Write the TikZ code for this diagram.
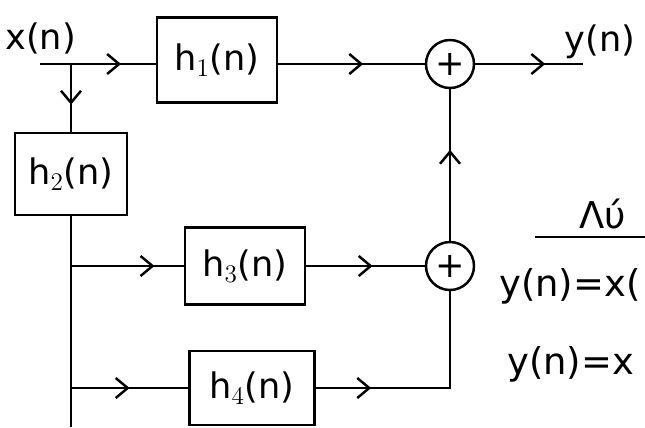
\documentclass[tikz,border=0pt]{standalone}
\usepackage{fontspec}
\setmainfont{DejaVu Sans}
\usepackage{tikz}
\usetikzlibrary{arrows.meta,decorations.markings}

\begin{document}
\begin{tikzpicture}[x=0.02cm,y=-0.02cm,line width=1.4pt,
  every node/.style={font=\fontsize{20}{24}\selectfont},
  filt/.style={draw,line width=1.4pt,inner sep=0pt},
  adder/.style={draw,circle,line width=1.4pt,minimum size=0.96cm,inner sep=0pt},
  note/.style={anchor=west,inner sep=0pt,font=\fontsize{21}{25}\selectfont},
  midarrow/.style={postaction={decorate,decoration={markings,
    mark=at position #1 with {\arrow{Straight Barb[length=2.4mm,width=4mm,line width=1.4pt]}}}}},
  midarrow/.default=0.5]
\useasboundingbox (0,0) rectangle (645,427);
% input and split
\node[anchor=west,inner sep=0pt] (xin) at (4,38) {x(n)};
\coordinate (xstart) at (40,64);
\coordinate (split1) at (71,64);
% filters
\node[filt,minimum width=2.4cm,minimum height=1.7cm] (h1) at (217,60) {h$_1$(n)};
\node[filt,minimum width=2.24cm,minimum height=1.64cm] (h2) at (71,174) {h$_2$(n)};
\node[filt,minimum width=2.4cm,minimum height=1.54cm] (h3) at (245,266) {h$_3$(n)};
\node[filt,minimum width=2.5cm,minimum height=1.48cm] (h4) at (252,388) {h$_4$(n)};
% adders
\node[adder] (sum1) at (450,64) {+};
\node[adder] (sum2) at (450,266) {+};
\coordinate (yout) at (583,64);
\node (ylab) at (600,42) {y(n)};
\coordinate (split3) at (71,266);
\coordinate (split4) at (71,388);
\coordinate (bottom) at (71,427);
\coordinate (corner4) at (450,388);
% connections
\draw[midarrow=0.7] (xstart) -- (h1.west |- xstart);
\draw[midarrow=0.6] (split1) -- (h2.north);
\draw (h2.south) -- (bottom);
\draw[midarrow=0.74] (split3) -- (h3.west);
\draw[midarrow=0.5] (split4) -- (h4.west);
\draw[midarrow=0.58] (h1.east |- sum1) -- (sum1.west);
\draw[midarrow=0.65] (sum1.east) -- (yout);
\draw[midarrow=0.56] (h3.east) -- (sum2.west);
\draw[midarrow=0.24] (h4.east) -- (corner4) -- (sum2.south);
\draw[midarrow=0.6] (sum2.north) -- (sum1.south);
% notes on the right
\node[note] (sol) at (578,214) {Λύ};
\draw (535,237) -- (645,237);
\node[note] (eq1) at (498,286) {y(n)=x(};
\node[note] (eq2) at (506,364) {y(n)=x};
\end{tikzpicture}
\end{document}
